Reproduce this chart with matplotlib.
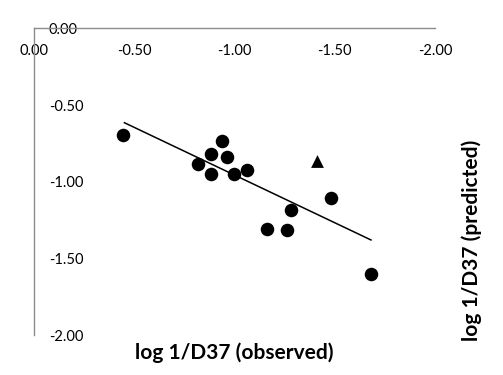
import matplotlib
matplotlib.use("Agg")
import matplotlib.pyplot as plt
from matplotlib.ticker import FixedLocator, FuncFormatter

plt.rcParams['font.family'] = ['Lato', 'DejaVu Sans']

# Data
obs_circles = [-0.447, -0.940, -0.882, -0.962, -0.820, -0.882, -1.000, -1.062,
               -1.482, -1.281, -1.163, -1.261, -1.681]
pred_circles = [-0.695, -0.732, -0.819, -0.840, -0.884, -0.951, -0.951, -0.925,
                -1.106, -1.184, -1.307, -1.312, -1.603]
obs_triangle = [-1.410]
pred_triangle = [-0.863]
trend_x = [-0.452, -1.681]
trend_y = [-0.615, -1.379]
x_ticks = [0.0, -0.5, -1.0, -1.5, -2.0]
y_ticks = [0.0, -0.5, -1.0, -1.5, -2.0]

W, H = 503, 375
fig = plt.figure(figsize=(W / 100, H / 100), dpi=100)
x0, x1 = 33.7, 435.0
ytop, ybot = 28.3, 335.3
ax = fig.add_axes([x0 / W, 1 - ybot / H, (x1 - x0) / W, (ybot - ytop) / H])
ax.set_xlim(0, -2)
ax.set_ylim(-2, 0)

ax.plot(trend_x, trend_y, color='black', lw=1.1, zorder=2)
ax.scatter(obs_circles, pred_circles, s=95, color='black', marker='o', zorder=3, linewidths=0)
ax.scatter(obs_triangle, pred_triangle, s=85, color='black', marker='^', zorder=3, linewidths=0)

for s in ['bottom', 'right']:
    ax.spines[s].set_visible(False)
for s in ['top', 'left']:
    ax.spines[s].set_color('#8c8c8c')
    ax.spines[s].set_linewidth(1.0)

ax.xaxis.tick_top()
ax.xaxis.set_major_locator(FixedLocator(x_ticks))
ax.yaxis.set_major_locator(FixedLocator(y_ticks))
fmt = FuncFormatter(lambda v, p: f"{v:.2f}")
ax.xaxis.set_major_formatter(fmt)
ax.yaxis.set_major_formatter(fmt)
ax.tick_params(axis='x', length=0, pad=-16.5, labelsize=10.5)
ax.tick_params(axis='y', length=0, pad=-11.0, labelsize=10.5)
for t in ax.get_xticklabels():
    t.set_verticalalignment('center')
for t in ax.get_yticklabels():
    t.set_horizontalalignment('left')

fig.text(234 / W, 1 - 353 / H, 'log 1/D37 (observed)', ha='center', va='center',
         fontsize=15, fontweight='bold')
fig.text(472 / W, 1 - 240 / H, 'log 1/D37 (predicted)', ha='center', va='center',
         rotation=90, fontsize=15, fontweight='bold')

fig.savefig('out.png', dpi=100)
